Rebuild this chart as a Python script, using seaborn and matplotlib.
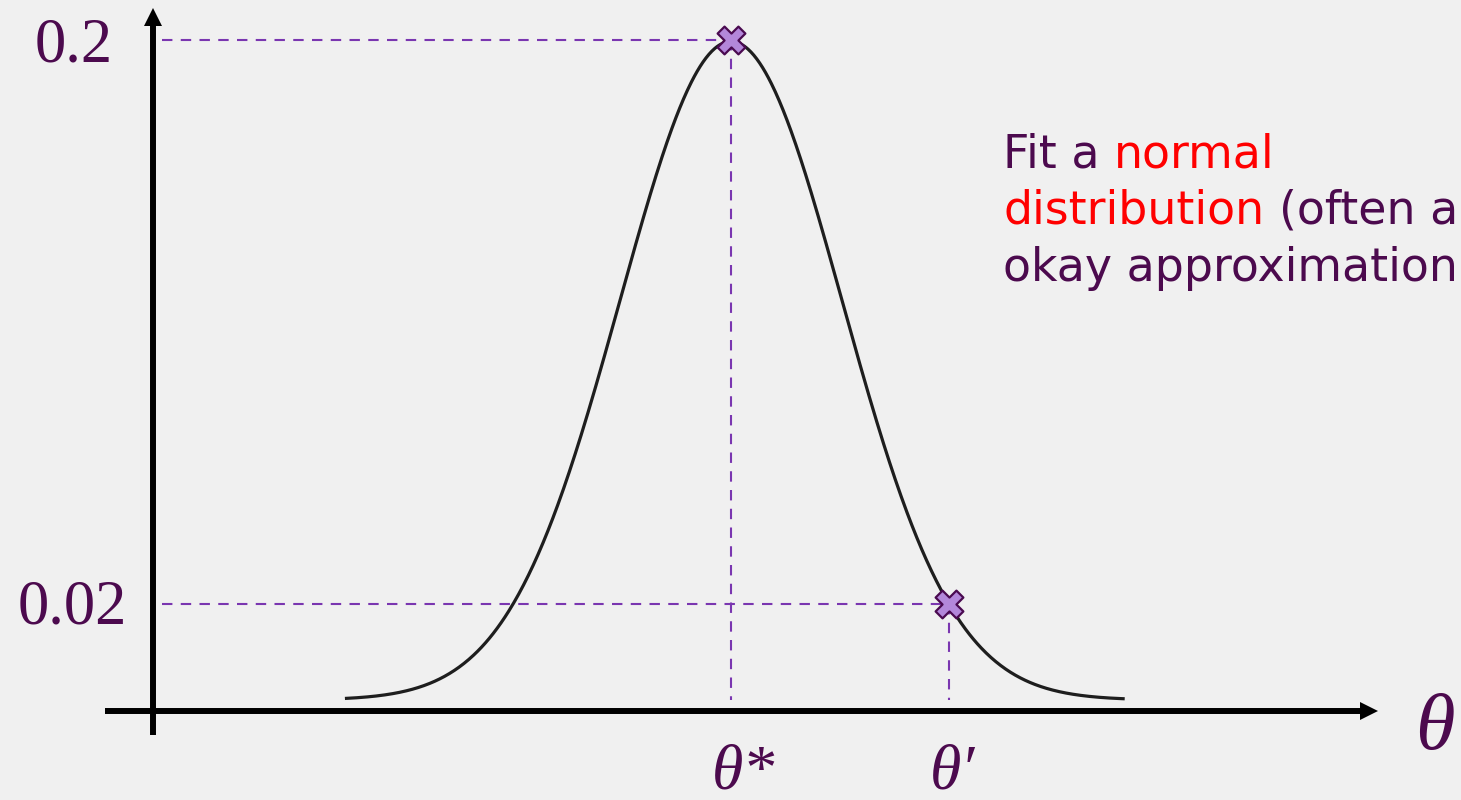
import numpy as np
import matplotlib
matplotlib.use("Agg")
import matplotlib.pyplot as plt
import seaborn as sns

# Fitted normal distribution over the parameter theta
mu = 0.0
sigma = 2.0
theta_min, theta_max = -7.6, 7.75

# Marked points: the mode theta* and another value theta'
point_theta = [0.0, 4.29]
point_density = [0.2, 0.02]
tick_values = [0.2, 0.02]
tick_labels = ["0.2", "0.02"]
point_labels = ["θ*", "θ′"]
axis_label = "θ"

# Annotation text, split into coloured runs per line
note_lines = [
    [("Fit a", "purple"), ("normal", "red")],
    [("distribution", "red"), ("(often an", "purple")],
    [("okay approximation)", "purple")],
]

# ---- style ----
BG = "#f0f0f0"
INK = "#4c0a4e"
RED = "#ff0000"
DASH = "#7a36b0"
MARK_FACE = "#b387da"
MARK_EDGE = "#4a0a50"
CURVE = "#1e1e1e"
colors = {"purple": INK, "red": RED}

sns.set_theme(style="white")
plt.rcParams["font.family"] = ["DejaVu Sans"]

W, H = 1461, 800
fig = plt.figure(figsize=(W / 100, H / 100), dpi=100, facecolor=BG)
ax = fig.add_axes([0, 0, 1, 1])

# vertical axis uses a power scale so the schematic curve keeps its shape
POW = 0.837


def fwd(v):
    v = np.asarray(v, dtype=float)
    return np.sign(v) * np.abs(v) ** POW


def inv(u):
    u = np.asarray(u, dtype=float)
    return np.sign(u) * np.abs(u) ** (1.0 / POW)


ax.set_yscale("function", functions=(fwd, inv))

# canvas geometry (pixels from top-left)
X0_PX = 731.0
PX_PER_THETA = 50.8
BASE_PX = 700.0
PEAK_PX = 40.0
K = (BASE_PX - PEAK_PX) / float(fwd(0.2))


def px_x(px):
    return (px - X0_PX) / PX_PER_THETA


def px_y(py):
    return float(inv((BASE_PX - py) / K))


ax.set_xlim(px_x(0), px_x(W))
ax.set_ylim(px_y(H), px_y(0))
ax.axis("off")

# ---- axes drawn as arrows ----
yaxis_theta = px_x(153)
xaxis_v = px_y(711)
ax.plot([px_x(105), px_x(1369)], [xaxis_v, xaxis_v], color="black", lw=4.3,
        solid_capstyle="butt", zorder=3)
ax.plot([px_x(1369)], [xaxis_v], marker=">", ms=13, mew=0, color="black", zorder=3)
ax.plot([yaxis_theta, yaxis_theta], [px_y(735), px_y(17)], color="black", lw=4.3,
        solid_capstyle="butt", zorder=3)
ax.plot([yaxis_theta], [px_y(17)], marker="^", ms=13, mew=0, color="black", zorder=3)

# ---- density curve ----
grid = np.linspace(theta_min, theta_max, 800)
pdf = np.exp(-0.5 * ((grid - mu) / sigma) ** 2) / (sigma * np.sqrt(2 * np.pi))
ax.plot(grid, pdf, color=CURVE, lw=2.3, zorder=2, solid_capstyle="butt")

# ---- guide lines ----
for th, dens in zip(point_theta, point_density):
    ax.plot([px_x(162), th], [dens, dens], color=DASH, lw=1.5, dashes=(5, 4), zorder=1)
    ax.plot([th, th], [dens, 0.0], color=DASH, lw=1.5, dashes=(5, 4), zorder=1)

# ---- marked points ----
sns.scatterplot(x=point_theta, y=point_density, marker="X", s=400, color=MARK_FACE,
                edgecolor=MARK_EDGE, linewidth=1.6, zorder=5, ax=ax)

# ---- value labels on the vertical axis ----
label_offsets = [(-28.8, -15.8), (-18.7, -14.4)]
for val, lab, off in zip(tick_values, tick_labels, label_offsets):
    ax.annotate(lab, xy=(yaxis_theta, val), xytext=off, textcoords="offset points",
                ha="right", va="baseline", color=INK, fontsize=45,
                family="Liberation Serif")

# ---- parameter labels under the horizontal axis ----
for th, lab in zip(point_theta, point_labels):
    ax.annotate(lab, xy=(th, xaxis_v), xytext=(-14, -56), textcoords="offset points",
                ha="left", va="baseline", color=INK, fontsize=46,
                family="Liberation Serif", style="italic")

ax.annotate(axis_label, xy=(px_x(1378), xaxis_v), xytext=(27, -27),
            textcoords="offset points", ha="left", va="baseline", color=INK,
            fontsize=58, family="Liberation Serif", style="italic")

# ---- explanatory note ----
note_x = 1003
note_baselines = [167, 224, 281]
space_pt = 10.5
for line, base in zip(note_lines, note_baselines):
    prev = None
    for text, col in line:
        if prev is None:
            prev = ax.annotate(text, xy=(note_x, H - base), xycoords="figure pixels",
                               ha="left", va="baseline", color=colors[col],
                               fontsize=33, family="DejaVu Sans")
        else:
            prev = ax.annotate(text, xy=(1, 0), xycoords=prev, xytext=(space_pt, 0),
                               textcoords="offset points", ha="left", va="bottom",
                               color=colors[col], fontsize=33, family="DejaVu Sans")

fig.savefig("out.png", dpi=100, facecolor=BG)
